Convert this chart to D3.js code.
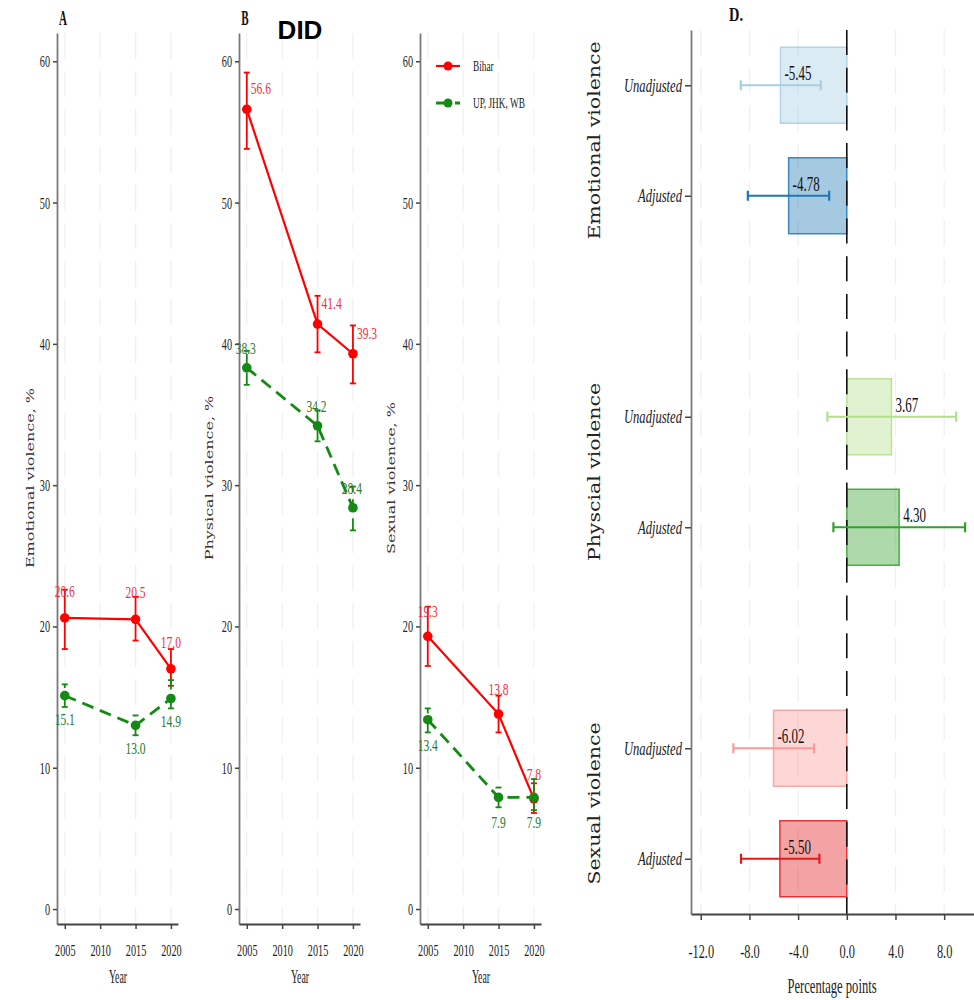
<!DOCTYPE html>
<html>
<head>
<meta charset="utf-8">
<script src="https://cdn.jsdelivr.net/npm/d3@7"></script>
<style>
  body { margin: 0; background: #fff; }
  svg { display: block; }
</style>
</head>
<body>
<svg width="974" height="1000"></svg>
<script>

// ---- trend panels (A-C) ----
var years = [2005, 2015, 2020];
var groupNames = ["Bihar", "UP, JHK, WB"];

var emotionalBihar     = [20.6, 20.5, 17.0];
var emotionalBiharLow  = [18.4, 19.0, 15.8];
var emotionalBiharHigh = [22.6, 22.1, 18.4];
var emotionalOther     = [15.1, 13.0, 14.9];
var emotionalOtherLow  = [14.3, 12.3, 14.2];
var emotionalOtherHigh = [15.9, 13.7, 16.2];

var physicalBihar     = [56.6, 41.4, 39.3];
var physicalBiharLow  = [53.8, 39.4, 37.2];
var physicalBiharHigh = [59.2, 43.4, 41.3];
var physicalOther     = [38.3, 34.2, 28.4];
var physicalOtherLow  = [37.1, 33.1, 26.8];
var physicalOtherHigh = [39.5, 35.3, 29.9];

var sexualBihar     = [19.3, 13.8, 7.8];
var sexualBiharLow  = [17.2, 12.5, 6.8];
var sexualBiharHigh = [21.4, 15.1, 8.9];
var sexualOther     = [13.4, 7.9, 7.9];
var sexualOtherLow  = [12.5, 7.2, 7.0];
var sexualOtherHigh = [14.2, 8.6, 9.2];

var yearTicks = [2005, 2010, 2015, 2020];
var pctTicks = [0, 10, 20, 30, 40, 50, 60];

// ---- DID panel (D) ----
var didOutcomes = ["Emotional violence", "Physcial violence", "Sexual violence"];
var didModels = ["Unadjusted", "Adjusted"];
var didEstimate = [-5.45, -4.78, 3.67, 4.30, -6.02, -5.50];
var didLow      = [-8.71, -8.13, -1.59, -1.10, -9.32, -8.69];
var didHigh     = [-2.14, -1.45, 8.98, 9.72, -2.69, -2.25];
var didTicks = [-12, -8, -4, 0, 4, 8];


var svg = d3.select("svg");
var SERIF = "'Liberation Serif', 'Times New Roman', serif";
var WIDE = "'DejaVu Serif', serif";
var gridColor = "#f0f0f0";
var gridDash = "26,12";

// the source image is squashed horizontally, so text gets scaled in x
function addText(parent, x, y, str, size, sx) {
  return parent.append("text")
    .attr("transform", "translate(" + x + "," + y + ") scale(" + sx + ",1)")
    .attr("font-family", SERIF)
    .attr("font-size", size)
    .text(str);
}

function squeezeTicks(g, sx) {
  g.selectAll(".tick text").each(function() {
    var t = d3.select(this);
    var x = +t.attr("x") || 0;
    t.attr("x", x / sx).attr("transform", "scale(" + sx + ",1)");
  });
}

var panels = [
  { tag: "A", left: 57, title: "Emotional violence, %", titleX: 34,
    bihar: [emotionalBihar, emotionalBiharLow, emotionalBiharHigh],
    other: [emotionalOther, emotionalOtherLow, emotionalOtherHigh],
    biharLab: { dx: 0, dy: -21, anchor: "middle" },
    otherLab: { dx: 0, dy: 29, anchor: "middle" } },
  { tag: "B", left: 239, title: "Physical violence, %", titleX: 213,
    bihar: [physicalBihar, physicalBiharLow, physicalBiharHigh],
    other: [physicalOther, physicalOtherLow, physicalOtherHigh],
    biharLab: { dx: 4, dy: -15, anchor: "start" },
    otherLab: { dx: -1, dy: -14, anchor: "middle" } },
  { tag: "", left: 420, title: "Sexual violence, %", titleX: 395,
    bihar: [sexualBihar, sexualBiharLow, sexualBiharHigh],
    other: [sexualOther, sexualOtherLow, sexualOtherHigh],
    biharLab: { dx: 0, dy: -19, anchor: "middle" },
    otherLab: { dx: 0, dy: 31, anchor: "middle" } }
];

var seriesStyle = [
  { color: "#ff0000", text: "#f22f3f", dash: null, width: 2.2 },
  { color: "#138a13", text: "#2b7a2b", dash: "12,7", width: 2.8 }
];

panels.forEach(function(p) {
  var g = svg.append("g");
  var x = d3.scaleLinear().domain([2003.9, 2021]).range([p.left, p.left + 121]);
  var y = d3.scaleLinear().domain([-1.06, 62]).range([924, 33]);

  // vertical dashed grid
  g.selectAll(".grid").data(yearTicks).enter().append("line")
    .attr("x1", function(d) { return x(d); })
    .attr("x2", function(d) { return x(d); })
    .attr("y1", 33).attr("y2", 924)
    .attr("stroke", gridColor).attr("stroke-width", 1.3)
    .attr("stroke-dasharray", gridDash);

  var ya = g.append("g").attr("transform", "translate(" + p.left + ",0)")
    .call(d3.axisLeft(y).tickValues(pctTicks).tickSize(4).tickPadding(3).tickSizeOuter(0));
  ya.select(".domain").attr("stroke", "#7a7a7a").attr("stroke-width", 1.8);
  ya.selectAll(".tick line").attr("stroke", "#444").attr("stroke-width", 1.5);
  ya.selectAll(".tick text").attr("font-family", SERIF).attr("font-size", 17).attr("fill", "#222");
  squeezeTicks(ya, 0.6);

  var xa = g.append("g").attr("transform", "translate(0,924)")
    .call(d3.axisBottom(x).tickValues(yearTicks).tickFormat(d3.format("d"))
      .tickSize(5).tickPadding(15).tickSizeOuter(0));
  xa.select(".domain").attr("stroke", "#444").attr("stroke-width", 2);
  xa.selectAll(".tick line").attr("stroke", "#444").attr("stroke-width", 1.5);
  xa.selectAll(".tick text").attr("font-family", SERIF).attr("font-size", 17).attr("fill", "#222");
  squeezeTicks(xa, 0.6);

  addText(g, p.left + 61, 983, "Year", 18, 0.55).attr("text-anchor", "middle").attr("fill", "#222");

  g.append("text")
    .attr("transform", "translate(" + p.titleX + ",478) scale(0.72,1) rotate(-90)")
    .attr("text-anchor", "middle")
    .attr("font-family", WIDE).attr("font-size", 16)
    .attr("fill", "#3a3034")
    .text(p.title);

  if (p.tag) {
    addText(g, p.left + 6, 25, p.tag, 20, 0.55)
      .attr("text-anchor", "middle").attr("font-weight", "bold").attr("fill", "#111");
  }

  [p.bihar, p.other].forEach(function(s, si) {
    var st = seriesStyle[si];
    var lab = si === 0 ? p.biharLab : p.otherLab;
    var pts = years.map(function(yr, i) {
      return { year: yr, v: s[0][i], lo: s[1][i], hi: s[2][i] };
    });
    var sg = g.append("g");

    sg.append("path")
      .datum(pts)
      .attr("fill", "none")
      .attr("stroke", st.color)
      .attr("stroke-width", st.width)
      .attr("stroke-dasharray", st.dash)
      .attr("d", d3.line().x(function(d) { return x(d.year); }).y(function(d) { return y(d.v); }));

    var eb = sg.selectAll(".eb").data(pts).enter().append("g")
      .attr("stroke", st.color).attr("stroke-width", 1.8);
    eb.append("line")
      .attr("x1", function(d) { return x(d.year); })
      .attr("x2", function(d) { return x(d.year); })
      .attr("y1", function(d) { return y(d.lo); })
      .attr("y2", function(d) { return y(d.hi); })
      .attr("stroke-dasharray", st.dash);
    ["lo", "hi"].forEach(function(k) {
      eb.append("line")
        .attr("x1", function(d) { return x(d.year) - 3; })
        .attr("x2", function(d) { return x(d.year) + 3; })
        .attr("y1", function(d) { return y(d[k]); })
        .attr("y2", function(d) { return y(d[k]); });
    });

    sg.selectAll("circle").data(pts).enter().append("circle")
      .attr("cx", function(d) { return x(d.year); })
      .attr("cy", function(d) { return y(d.v); })
      .attr("r", 4.8)
      .attr("fill", st.color);

    pts.forEach(function(d) {
      addText(sg, x(d.year) + lab.dx, y(d.v) + lab.dy, d.v.toFixed(1), 17, 0.68)
        .attr("text-anchor", lab.anchor)
        .attr("fill", st.text);
    });
  });
});

// legend (sits in panel C)
var lg = svg.append("g");
groupNames.forEach(function(name, i) {
  var st = seriesStyle[i];
  var ly = 66 + i * 37;
  lg.append("line")
    .attr("x1", 436).attr("x2", 460).attr("y1", ly).attr("y2", ly)
    .attr("stroke", st.color).attr("stroke-width", st.width)
    .attr("stroke-dasharray", st.dash);
  lg.append("circle").attr("cx", 448).attr("cy", ly).attr("r", 4.5).attr("fill", st.color);
  addText(lg, 473, ly + 5, name, 15, 0.62).attr("fill", "#222");
});

svg.append("text")
  .attr("x", 300).attr("y", 39)
  .attr("text-anchor", "middle")
  .attr("font-family", "'Liberation Sans', Arial, sans-serif")
  .attr("font-weight", "bold").attr("font-size", 26)
  .attr("fill", "#000")
  .text("DID");

// ---- panel D ----
var didKeys = [];
didOutcomes.forEach(function(o, i) {
  didModels.forEach(function(m) { didKeys.push(o + "|" + m); });
  if (i < didOutcomes.length - 1) didKeys.push("gap" + i);
});
var didRows = [];
didOutcomes.forEach(function(o, i) {
  didModels.forEach(function(m, j) {
    var k = i * didModels.length + j;
    didRows.push({ key: o + "|" + m, outcome: i, model: j,
      est: didEstimate[k], lo: didLow[k], hi: didHigh[k] });
  });
});
var didColors = [["#a6cee3", "#1f78b4"], ["#b2df8a", "#33a02c"], ["#fb9a99", "#e31a1c"]];

var dg = svg.append("g");
var xD = d3.scaleLinear().domain([-12.8, 10.5]).range([691, 974.6]);
var yD = d3.scalePoint().domain(didKeys).range([30, 914]).padding(0.5);

dg.selectAll(".grid").data(didTicks.filter(function(t) { return t !== 0; })).enter().append("line")
  .attr("x1", function(d) { return xD(d); })
  .attr("x2", function(d) { return xD(d); })
  .attr("y1", 30).attr("y2", 914)
  .attr("stroke", gridColor).attr("stroke-width", 1.3)
  .attr("stroke-dasharray", gridDash);

var barH = 76;
dg.selectAll(".bar").data(didRows).enter().append("rect")
  .attr("x", function(d) { return Math.min(xD(0), xD(d.est)); })
  .attr("width", function(d) { return Math.abs(xD(d.est) - xD(0)); })
  .attr("y", function(d) { return yD(d.key) - barH / 2; })
  .attr("height", barH)
  .attr("fill", function(d) { return didColors[d.outcome][d.model]; })
  .attr("fill-opacity", 0.4)
  .attr("stroke", function(d) { return didColors[d.outcome][d.model]; })
  .attr("stroke-opacity", 0.85)
  .attr("stroke-width", 1.5);

dg.append("line")
  .attr("x1", xD(0)).attr("x2", xD(0)).attr("y1", 30).attr("y2", 914)
  .attr("stroke", "#111").attr("stroke-width", 1.6)
  .attr("stroke-dasharray", "25,12.7");

var deb = dg.selectAll(".deb").data(didRows).enter().append("g")
  .attr("stroke", function(d) { return didColors[d.outcome][d.model]; })
  .attr("stroke-width", 2.2);
deb.append("line")
  .attr("x1", function(d) { return xD(d.lo); })
  .attr("x2", function(d) { return xD(d.hi); })
  .attr("y1", function(d) { return yD(d.key); })
  .attr("y2", function(d) { return yD(d.key); });
["lo", "hi"].forEach(function(k) {
  deb.append("line")
    .attr("x1", function(d) { return xD(d[k]); })
    .attr("x2", function(d) { return xD(d[k]); })
    .attr("y1", function(d) { return yD(d.key) - 5; })
    .attr("y2", function(d) { return yD(d.key) + 5; });
});

didRows.forEach(function(d) {
  addText(dg, xD(d.est) + 4, yD(d.key) - 5, d.est.toFixed(2), 20, 0.65).attr("fill", "#111");
});

var yDa = dg.append("g").attr("transform", "translate(691,0)")
  .call(d3.axisLeft(yD)
    .tickValues(didKeys.filter(function(k) { return k.indexOf("|") > 0; }))
    .tickFormat(function(k) { return k.split("|")[1]; })
    .tickSize(6).tickPadding(3).tickSizeOuter(0));
yDa.select(".domain").attr("stroke", "#7a7a7a").attr("stroke-width", 1.8);
yDa.selectAll(".tick line").attr("stroke", "#444").attr("stroke-width", 1.5);
yDa.selectAll(".tick text").attr("font-family", SERIF).attr("font-size", 18)
  .attr("font-style", "italic").attr("fill", "#222");
squeezeTicks(yDa, 0.7);

var xDa = dg.append("g").attr("transform", "translate(0,914)")
  .call(d3.axisBottom(xD).tickValues(didTicks)
    .tickFormat(function(t) { return t.toFixed(1); })
    .tickSize(6).tickPadding(25).tickSizeOuter(0));
xDa.select(".domain").attr("stroke", "#444").attr("stroke-width", 2);
xDa.selectAll(".tick line").attr("stroke", "#444").attr("stroke-width", 1.5);
xDa.selectAll(".tick text").attr("font-family", SERIF).attr("font-size", 19).attr("fill", "#222");
squeezeTicks(xDa, 0.65);

addText(dg, 832, 993, "Percentage points", 21, 0.6).attr("text-anchor", "middle").attr("fill", "#222");
addText(dg, 736, 21, "D.", 18, 0.8).attr("text-anchor", "middle").attr("font-weight", "bold").attr("fill", "#111");

didOutcomes.forEach(function(o) {
  var cy = (yD(o + "|" + didModels[0]) + yD(o + "|" + didModels[1])) / 2;
  dg.append("text")
    .attr("transform", "translate(600," + cy + ") scale(0.8,1) rotate(-90)")
    .attr("text-anchor", "middle")
    .attr("font-family", WIDE).attr("font-size", 20.5)
    .attr("fill", "#222")
    .text(o);
});
</script>
</body>
</html>
